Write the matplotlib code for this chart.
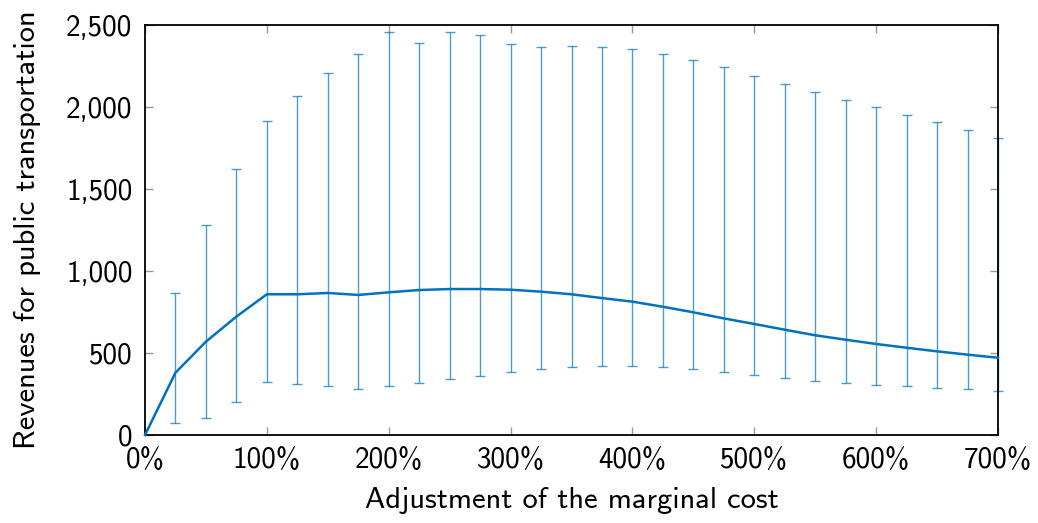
import matplotlib
matplotlib.use("Agg")
import matplotlib.pyplot as plt
from matplotlib.ticker import FuncFormatter, MultipleLocator

adjustment = [0, 25, 50, 75, 100, 125, 150, 175, 200, 225, 250, 275, 300, 325,
              350, 375, 400, 425, 450, 475, 500, 525, 550, 575, 600, 625, 650, 675, 700]
revenue = [0, 380, 569, 722, 858, 858, 866, 854, 870, 884, 890, 890, 886, 874,
           858, 835, 813, 782, 748, 711, 677, 642, 608, 581, 555, 532, 510, 490, 471]
upper = [0, 864, 1282, 1622, 1917, 2067, 2207, 2323, 2457, 2390, 2455, 2441, 2382, 2368,
         2372, 2368, 2351, 2321, 2287, 2242, 2191, 2142, 2093, 2045, 1998, 1953, 1906, 1862, 1813]
lower = [0, 75, 102, 201, 321, 311, 301, 280, 297, 317, 340, 362, 384, 402,
         417, 423, 423, 415, 402, 384, 364, 345, 329, 317, 307, 297, 289, 280, 268]

plt.rcParams['font.family'] = ['cmss10', 'DejaVu Sans']
plt.rcParams['axes.unicode_minus'] = False

fig = plt.figure(figsize=(10.38, 5.23), dpi=100)
ax = fig.add_axes([145/1038, 1-435/523, (998-145)/1038, (435-25)/523])

color = '#0072BD'
err_lo = [r - l for r, l in zip(revenue, lower)]
err_hi = [u - r for r, u in zip(revenue, upper)]
xs = adjustment[1:]
ax.errorbar(xs, revenue[1:], yerr=[err_lo[1:], err_hi[1:]], fmt='none',
            ecolor=color, elinewidth=1.0, capsize=3.8, capthick=1.0, alpha=0.7,
            clip_on=False, zorder=2)
ax.plot(adjustment, revenue, color=color, linewidth=1.8, zorder=3, clip_on=False)

ax.set_xlim(0, 700)
ax.set_ylim(0, 2500)
ax.xaxis.set_major_locator(MultipleLocator(100))
ax.yaxis.set_major_locator(MultipleLocator(500))
ax.xaxis.set_major_formatter(FuncFormatter(lambda v, p: f"{int(v)}%"))
ax.yaxis.set_major_formatter(FuncFormatter(lambda v, p: f"{int(v):,}"))

ax.tick_params(direction='in', length=6, width=1.0, color='#999999',
               top=True, right=True, labelsize=21, pad=9)
ax.tick_params(axis='x', pad=9)
for s in ax.spines.values():
    s.set_linewidth(1.3)
    s.set_color('black')

ax.set_xlabel('Adjustment of the marginal cost', fontsize=22, labelpad=9)
ax.set_ylabel('Revenues for public transportation', fontsize=22, labelpad=18)

fig.savefig('out.png', dpi=100)
